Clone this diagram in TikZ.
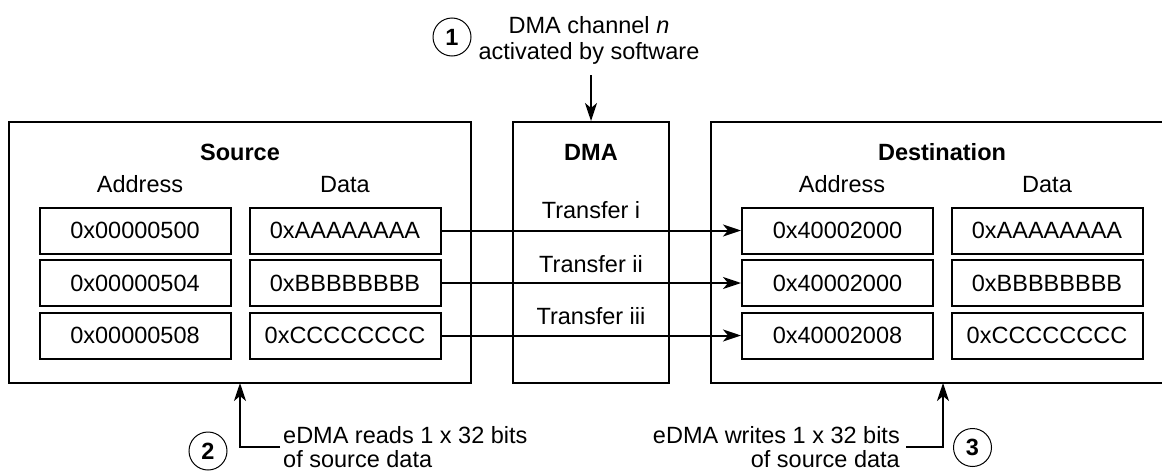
\documentclass[tikz,border=0pt]{standalone}
\usepackage{fontspec}
\setmainfont{Liberation Sans}
\usetikzlibrary{arrows.meta}
\begin{document}
\begin{tikzpicture}[x=1pt,y=-1pt,
  font=\fontsize{23.5}{26}\selectfont,
  outer/.style={draw, line width=2pt, inner sep=0pt},
  cell/.style={draw, line width=2pt, minimum width=191pt, minimum height=46pt, inner sep=0pt, text height=16.8pt, text depth=0pt},
  lbl/.style={inner sep=0pt, text height=16.8pt, text depth=0pt},
  note/.style={inner sep=0pt, align=center},
  num/.style={draw, circle, line width=1pt, minimum size=38pt, inner sep=0pt, font=\fontsize{23.5}{26}\selectfont\bfseries},
  arr/.style={line width=2pt, -{Stealth[length=18pt,width=12pt,inset=5pt]}},
  conn/.style={line width=2pt}
]
\useasboundingbox (0,0) rectangle (1162,471);
\clip (0,0) rectangle (1162,471);

% outer boxes
\node[outer, minimum width=462pt, minimum height=261pt] (src) at (240,252.5) {};
\node[outer, minimum width=156pt, minimum height=261pt] (dma) at (591,252.5) {};
\node[outer, minimum width=461pt, minimum height=261pt] (dst) at (941.5,252.5) {};

% titles
\node[lbl, font=\fontsize{23.5}{26}\selectfont\bfseries] (srct) at (240,152) {Source};
\node[lbl, font=\fontsize{23.5}{26}\selectfont\bfseries] (dmat) at (591,152) {DMA};
\node[lbl, font=\fontsize{23.5}{26}\selectfont\bfseries] (dstt) at (942,152) {Destination};

% headers
\node[lbl] (sah) at (140,184) {Address};
\node[lbl] (sdh) at (345,184) {Data};
\node[lbl] (dah) at (842,184) {Address};
\node[lbl] (ddh) at (1047,184) {Data};

% source cells
\node[cell] (sa1) at (135,230.5) {0x00000500};
\node[cell] (sa2) at (135,283) {0x00000504};
\node[cell] (sa3) at (135,335.5) {0x00000508};
\node[cell] (sd1) at (345,230.5) {0xAAAAAAAA};
\node[cell] (sd2) at (345,283) {0xBBBBBBBB};
\node[cell] (sd3) at (345,335.5) {0xCCCCCCCC};

% destination cells
\node[cell] (da1) at (837.5,230.5) {0x40002000};
\node[cell] (da2) at (837.5,283) {0x40002000};
\node[cell] (da3) at (837.5,335.5) {0x40002008};
\node[cell] (dd1) at (1047,230.5) {0xAAAAAAAA};
\node[cell] (dd2) at (1047,283) {0xBBBBBBBB};
\node[cell] (dd3) at (1047,335.5) {0xCCCCCCCC};

% transfer labels
\node[lbl] (t1) at (591,210) {Transfer i};
\node[lbl] (t2) at (591,264) {Transfer ii};
\node[lbl] (t3) at (591,316) {Transfer iii};

% transfers
\draw[arr] (sd1.east) -- (da1.west);
\draw[arr] (sd2.east) -- (da2.west);
\draw[arr] (sd3.east) -- (da3.west);

% step 1
\node[num] (n1) at (452,37) {1};
\node[note, anchor=north] (top) at (589,16) {DMA channel \textit{n}\\activated by software};
\coordinate (topstart) at (591,75);
\draw[arr] (topstart) -- (dma.north);

% step 2
\node[num] (n2) at (208,451) {2};
\node[note, align=left, anchor=north west, font=\fontsize{23.5}{24.5}\selectfont] (readtxt) at (283,426) {eDMA reads 1 x 32 bits\\of source data};
\coordinate (rstart) at (280,447);
\coordinate (rend) at (240,383);
\draw[arr] (rstart) -| (rend);

% step 3
\node[num] (n3) at (972.5,447.5) {3};
\node[note, align=right, anchor=north east, font=\fontsize{23.5}{24.5}\selectfont] (writetxt) at (900,426) {eDMA writes 1 x 32 bits\\of source data};
\coordinate (wstart) at (906,447);
\coordinate (wend) at (943,383);
\draw[arr] (wstart) -| (wend);
\end{tikzpicture}
\end{document}
